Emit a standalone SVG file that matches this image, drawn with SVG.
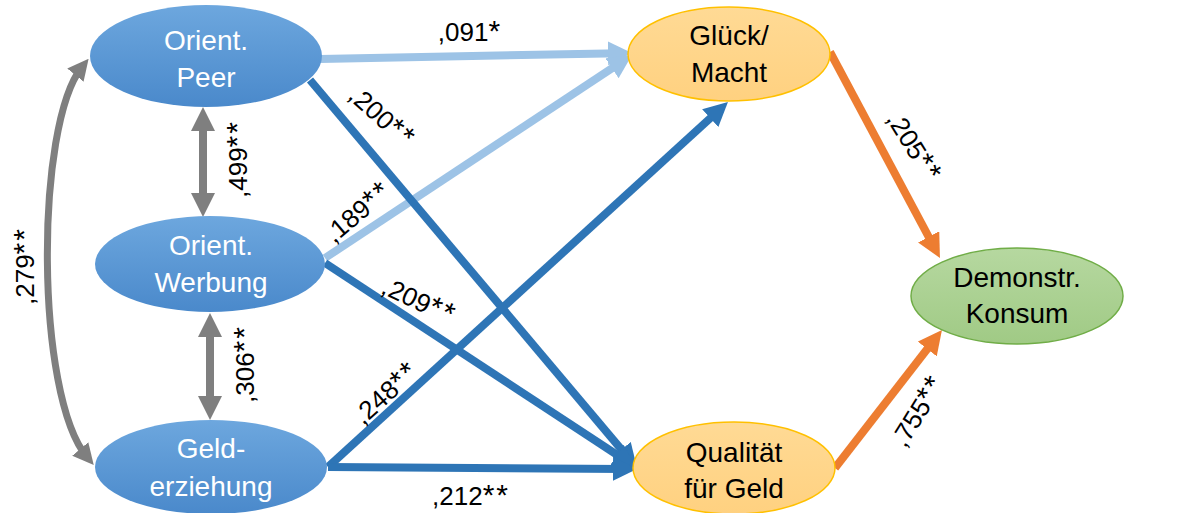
<svg xmlns="http://www.w3.org/2000/svg" width="1197" height="513" viewBox="0 0 1197 513">
<defs>
<linearGradient id="gBlue" x1="0" y1="0" x2="0" y2="1">
<stop offset="0" stop-color="#6DA7DE"/>
<stop offset="1" stop-color="#4A89CB"/>
</linearGradient>
<linearGradient id="gOrange" x1="0" y1="0" x2="0" y2="1">
<stop offset="0" stop-color="#FFDA95"/>
<stop offset="1" stop-color="#FFD180"/>
</linearGradient>
<linearGradient id="gGreen" x1="0" y1="0" x2="0" y2="1">
<stop offset="0" stop-color="#B6D8A0"/>
<stop offset="1" stop-color="#A0CA85"/>
</linearGradient>
<marker id="mDark" viewBox="0 0 3 3" markerWidth="3" markerHeight="3" refX="1.5" refY="1.5" orient="auto" markerUnits="strokeWidth"><path d="M0,0 L3,1.5 L0,3 z" fill="#2E75B6"/></marker>
<marker id="mLight" viewBox="0 0 3 3" markerWidth="3" markerHeight="3" refX="1.5" refY="1.5" orient="auto" markerUnits="strokeWidth"><path d="M0,0 L3,1.5 L0,3 z" fill="#9DC3E6"/></marker>
<marker id="mOrange" viewBox="0 0 3 3" markerWidth="3" markerHeight="3" refX="1.5" refY="1.5" orient="auto" markerUnits="strokeWidth"><path d="M0,0 L3,1.5 L0,3 z" fill="#ED7D31"/></marker>
<marker id="mGray" viewBox="0 0 3 3" markerWidth="3" markerHeight="3" refX="1.5" refY="1.5" orient="auto-start-reverse" markerUnits="strokeWidth"><path d="M0,0 L3,1.5 L0,3 z" fill="#7F7F7F"/></marker>
</defs>
<style>
.dark{stroke:#2E75B6;stroke-width:8;fill:none;marker-end:url(#mDark)}
.light{stroke:#9DC3E6;stroke-width:8;fill:none;marker-end:url(#mLight)}
.orange{stroke:#ED7D31;stroke-width:8;fill:none;marker-end:url(#mOrange)}
.gray{stroke:#7F7F7F;stroke-width:8;fill:none;marker-start:url(#mGray);marker-end:url(#mGray)}
.nblue{fill:url(#gBlue)}
.norange{fill:url(#gOrange);stroke:#FFC000;stroke-width:1.5}
.ngreen{fill:url(#gGreen);stroke:#70AD47;stroke-width:1.5}
.nt{font-family:"Liberation Sans",Arial,sans-serif;font-size:28px;text-anchor:middle}
.w{fill:#FFFFFF}
.k{fill:#000000}
.lbl{font-family:"Liberation Sans",Arial,sans-serif;font-size:26px;text-anchor:middle;fill:#000000}
.a{font-size:30px;letter-spacing:2px}
</style>
<g id="connectors">
<line class="light" x1="320" y1="59" x2="620" y2="53.2"/>
<line class="light" x1="325" y1="258" x2="622" y2="61.6"/>
<line class="dark" x1="310" y1="80" x2="629.3" y2="458.8"/>
<line class="dark" x1="325" y1="263" x2="627" y2="461.4"/>
<line class="dark" x1="328" y1="467" x2="719.1" y2="110.1"/>
<line class="dark" x1="328" y1="467" x2="625" y2="468.9"/>
<line class="orange" x1="830" y1="52" x2="934.3" y2="247.4"/>
<line class="orange" x1="835" y1="468" x2="934.6" y2="339.5"/>
<line class="gray" x1="203" y1="119" x2="203" y2="205"/>
<line class="gray" x1="210" y1="325" x2="210" y2="408"/>
<path class="gray" style="stroke-width:7" d="M82,67 C35,125 35,395 87,457"/>
<text class="lbl" transform="translate(470,32)" y="9">,091<tspan class="a">*</tspan></text>
<text class="lbl" transform="translate(382,117) rotate(42)" y="9">,200<tspan class="a">**</tspan></text>
<text class="lbl" transform="translate(358,212) rotate(-40)" y="9">,189<tspan class="a">**</tspan></text>
<text class="lbl" transform="translate(419,301) rotate(25)" y="9">,209<tspan class="a">**</tspan></text>
<text class="lbl" transform="translate(386,393) rotate(-42)" y="9">,248<tspan class="a">**</tspan></text>
<text class="lbl" transform="translate(471,496)" y="9">,212<tspan class="a">**</tspan></text>
<text class="lbl" transform="translate(238,159) rotate(-90)" y="9">,499<tspan class="a">**</tspan></text>
<text class="lbl" transform="translate(245,364) rotate(-90)" y="9">,306<tspan class="a">**</tspan></text>
<text class="lbl" transform="translate(25,266) rotate(-90)" y="9">,279<tspan class="a">**</tspan></text>
<text class="lbl" transform="translate(914,147) rotate(58)" y="9">,205<tspan class="a">**</tspan></text>
<text class="lbl" transform="translate(918,411) rotate(-58)" y="9">,755<tspan class="a">**</tspan></text>
</g>
<g id="node-peer">
<ellipse class="nblue" cx="206" cy="56" rx="116" ry="51"/>
<text class="nt w" x="206" y="50">Orient.</text>
<text class="nt w" x="206" y="87">Peer</text>
</g>
<g id="node-werbung">
<ellipse class="nblue" cx="210" cy="264" rx="115" ry="48"/>
<text class="nt w" x="211" y="255">Orient.</text>
<text class="nt w" x="211" y="292">Werbung</text>
</g>
<g id="node-geld">
<ellipse class="nblue" cx="211" cy="467" rx="116" ry="47"/>
<text class="nt w" x="211" y="458">Geld-</text>
<text class="nt w" x="211" y="496">erziehung</text>
</g>
<g id="node-glueck">
<ellipse class="norange" cx="729" cy="54" rx="101" ry="47"/>
<text class="nt k" x="729" y="45">Glück/</text>
<text class="nt k" x="729" y="82">Macht</text>
</g>
<g id="node-qualitaet">
<ellipse class="norange" cx="734" cy="468" rx="101" ry="46"/>
<text class="nt k" x="734" y="462">Qualität</text>
<text class="nt k" x="734" y="498">für Geld</text>
</g>
<g id="node-demonstr">
<ellipse class="ngreen" cx="1017" cy="296" rx="106" ry="48"/>
<text class="nt k" x="1017" y="287">Demonstr.</text>
<text class="nt k" x="1017" y="323">Konsum</text>
</g>
</svg>
